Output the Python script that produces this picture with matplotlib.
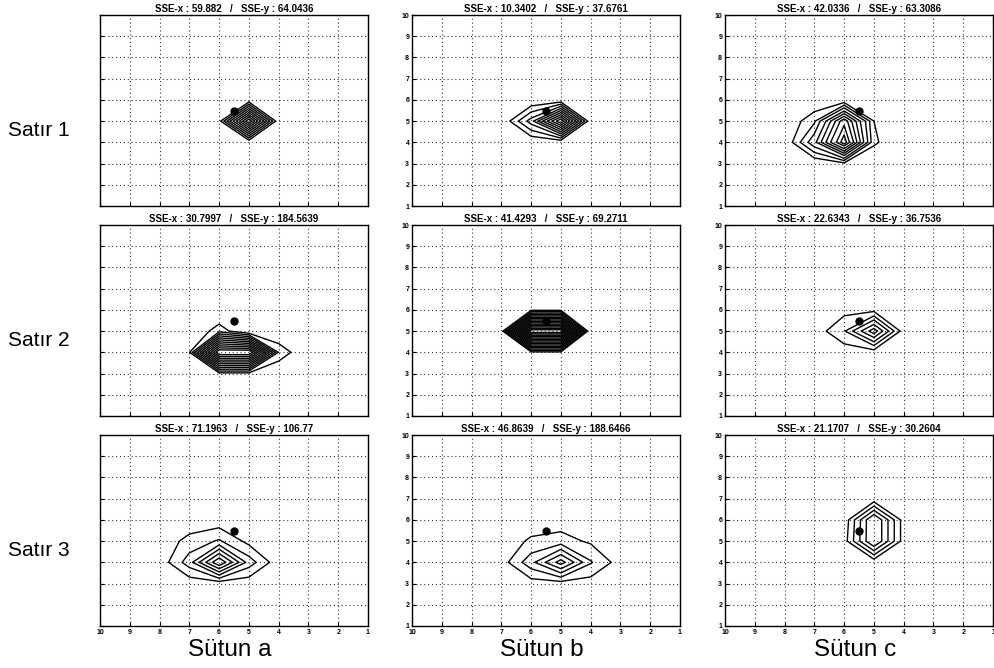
import numpy as np
import matplotlib
matplotlib.use('Agg')
from matplotlib import pyplot as plt

plt.rcParams['font.family'] = ['Liberation Sans', 'DejaVu Sans']

# etiquetas de filas y columnas
satirlar = ['Satır 1', 'Satır 2', 'Satır 3']
sutunlar = ['Sütun a', 'Sütun b', 'Sütun c']

# SSE values shown above each panel (row by row)
sse_x = ['59.882', '10.3402', '42.0336',
         '30.7997', '41.4293', '22.6343',
         '71.1963', '46.8639', '21.1707']
sse_y = ['64.0436', '37.6761', '63.3086',
         '184.5639', '69.2711', '36.7536',
         '106.77', '188.6466', '30.2604']

# true point (dot) in every panel
nokta_x = 5.5
nokta_y = 5.5

# grid patches: rows are y = 7..2, columns are x = 8..3 (as drawn, x axis reversed)
patch_y = [7, 6, 5, 4, 3, 2]
patch_x = [8, 7, 6, 5, 4, 3]

z_1a = [[0, 0, 0, 0, 0, 0],
        [0, 0, 0, 0, 0, 0],
        [0, 0, .05, 1, 0, 0],
        [0, 0, 0, 0, 0, 0],
        [0, 0, 0, 0, 0, 0],
        [0, 0, 0, 0, 0, 0]]
z_1b = [[0, 0, 0, 0, 0, 0],
        [0, 0, 0, 0, 0, 0],
        [0, 0, .35, 1, 0, 0],
        [0, 0, 0, 0, 0, 0],
        [0, 0, 0, 0, 0, 0],
        [0, 0, 0, 0, 0, 0]]
z_1c = [[0, 0, 0, 0, 0, 0],
        [0, 0, 0, 0, 0, 0],
        [0, .18, .8, .1, 0, 0],
        [0, .38, 1, .12, 0, 0],
        [0, 0, .07, 0, 0, 0],
        [0, 0, 0, 0, 0, 0]]
z_2a = [[0, 0, 0, 0, 0, 0],
        [0, 0, 0, 0, 0, 0],
        [0, 0, .15, 0, 0, 0],
        [0, .09, 1, 1, .17, 0],
        [0, 0, .07, .07, 0, 0],
        [0, 0, 0, 0, 0, 0]]
z_2b = [[0, 0, 0, 0, 0, 0],
        [0, 0, .08, .08, 0, 0],
        [0, .05, 1, 1, 0, 0],
        [0, 0, .08, .08, 0, 0],
        [0, 0, 0, 0, 0, 0],
        [0, 0, 0, 0, 0, 0]]
z_2c = [[0, 0, 0, 0, 0, 0],
        [0, 0, .05, .05, 0, 0],
        [0, 0, .3, 1, 0, 0],
        [0, 0, 0, 0, 0, 0],
        [0, 0, 0, 0, 0, 0],
        [0, 0, 0, 0, 0, 0]]
z_3a = [[0, 0, 0, 0, 0, 0],
        [0, 0, 0, 0, 0, 0],
        [0, .15, .27, .05, 0, 0],
        [0, .33, 1, .33, 0, 0],
        [0, 0, 0, 0, 0, 0],
        [0, 0, 0, 0, 0, 0]]
z_3b = [[0, 0, 0, 0, 0, 0],
        [0, 0, 0, 0, 0, 0],
        [0, 0, .127, .18, .067, 0],
        [0, 0, .43, 1, .32, 0],
        [0, 0, 0, 0, 0, 0],
        [0, 0, 0, 0, 0, 0]]
z_3c = [[0, 0, 0, 0, 0, 0],
        [0, 0, 0, 1, .05, 0],
        [0, 0, .05, 1, .05, 0],
        [0, 0, 0, 0, 0, 0],
        [0, 0, 0, 0, 0, 0],
        [0, 0, 0, 0, 0, 0]]
zler = [z_1a, z_1b, z_1c, z_2a, z_2b, z_2c, z_3a, z_3b, z_3c]

# contour levels for each panel
seviyeler = [[.1, .2, .3, .4, .5, .6, .7, .8, .9],
             [.1, .2, .3, .4, .5, .6, .7, .8, .9],
             [.1, .2, .3, .42, .52, .62, .72, .84, .93],
             [.1, .18, .26, .34, .42, .5, .58, .66, .74, .82, .9],
             [.1, .16, .22, .28, .34, .4, .46, .52, .58, .64, .7, .76, .82, .88, .94],
             [.12, .32, .5, .7, .88],
             [.1, .25, .4, .55, .7, .85],
             [.1, .3, .5, .7, .9],
             [.15, .35, .55, .75]]

izgara = np.arange(1, 11)


def tam_izgara(patch):
    z = np.zeros((10, 10))
    for i, y in enumerate(patch_y):
        for j, x in enumerate(patch_x):
            z[y - 1, x - 1] = patch[i][j]
    return z


W, H = 995, 668
fig = plt.figure(figsize=(W / 100, H / 100), dpi=100)

sol = [100, 412, 725]
ust = [15, 225, 435]
gen, yuk = 268, 191

for r in range(3):
    for c in range(3):
        k = r * 3 + c
        ax = fig.add_axes([sol[c] / W, 1 - (ust[r] + yuk) / H, gen / W, yuk / H])
        X, Y = np.meshgrid(izgara, izgara)
        ax.contour(X, Y, tam_izgara(zler[k]), levels=seviyeler[k],
                   colors='k', linewidths=1.0)
        ax.plot([nokta_x], [nokta_y], 'o', color='k', markersize=5)
        ax.set_xlim(10, 1)
        ax.set_ylim(1, 10)
        ax.set_xticks(izgara)
        ax.set_yticks(izgara)
        ax.grid(True, color='k', linestyle=(0, (1, 2.5)), linewidth=0.8, alpha=0.8)
        ax.tick_params(direction='in', length=3, width=0.8, labelsize=5, pad=2)
        for t in ax.get_xticklabels() + ax.get_yticklabels():
            t.set_fontweight('bold')
        if r < 2:
            ax.set_xticklabels([])
        if c == 0:
            ax.set_yticklabels([])
        for s in ax.spines.values():
            s.set_linewidth(1.0)
            s.set_color('k')
        ax.set_title('SSE-x : %s   /   SSE-y : %s' % (sse_x[k], sse_y[k]),
                     fontsize=7, fontweight='bold', pad=2.5)

for r in range(3):
    fig.text(8 / W, 1 - (ust[r] + 116) / H, satirlar[r], fontsize=15,
             ha='left', va='center')
for c in range(3):
    fig.text((sol[c] + gen / 2 - 4) / W, 1 - 650 / H, sutunlar[c], fontsize=17.5,
             ha='center', va='center')

fig.savefig('out.png', dpi=100)
